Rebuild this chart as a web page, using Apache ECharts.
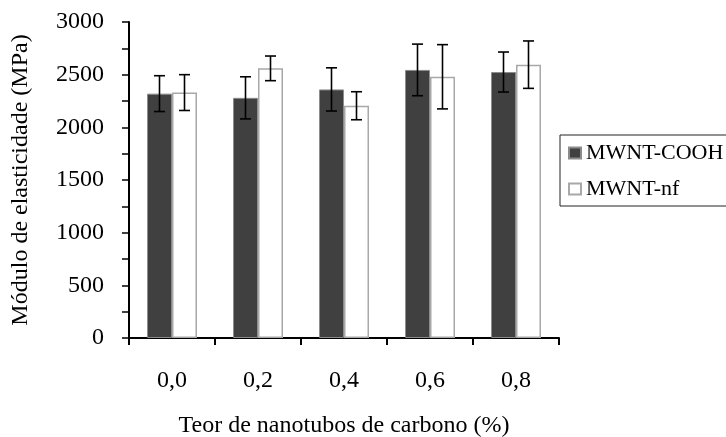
<!DOCTYPE html>
<html>
<head>
<meta charset="utf-8">
<script src="https://cdn.jsdelivr.net/npm/echarts@6/dist/echarts.min.js"></script>
<style>
  html, body { margin: 0; padding: 0; background: #fff; }
  #chart { width: 726px; height: 437px; }
</style>
</head>
<body>
<div id="chart"></div>
<script>
"use strict";
// teor de nanotubos (%)
var categories = ['0,0', '0,2', '0,4', '0,6', '0,8'];
// módulo de elasticidade (MPa) e desvio
var coohValues = [2320, 2280, 2360, 2545, 2525];
var coohErr = [170, 200, 205, 245, 190];
var nfValues = [2330, 2560, 2205, 2480, 2595];
var nfErr = [170, 117, 133, 305, 225];
var yTicks = [0, 500, 1000, 1500, 2000, 2500, 3000];

var FONT = 'Liberation Serif';
var BAR_W = 25;

// monta [categoria, baixo, alto] para as barras de erro
function errData(vals, errs) {
	var out = [];
	for (var i = 0; i < vals.length; i++) {
		out.push([i, vals[i] - errs[i], vals[i] + errs[i]]);
	}
	return out;
}

function errRender(offset) {
	return function (params, api) {
		var lo = api.coord([api.value(0), api.value(1)]);
		var hi = api.coord([api.value(0), api.value(2)]);
		var x = lo[0] + offset;
		var cap = 5.5;
		var st = { stroke: '#000', lineWidth: 1.6 };
		return {
			type: 'group',
			children: [
				{ type: 'line', shape: { x1: x, y1: hi[1], x2: x, y2: lo[1] }, style: st },
				{ type: 'line', shape: { x1: x - cap, y1: hi[1], x2: x + cap, y2: hi[1] }, style: st },
				{ type: 'line', shape: { x1: x - cap, y1: lo[1], x2: x + cap, y2: lo[1] }, style: st }
			]
		};
	};
}

var myChart = echarts.init(document.getElementById('chart'));
var option = {
	animation: false,
	backgroundColor: '#fff',
	grid: { left: 129, right: 167, top: 22, bottom: 99, containLabel: false, outerBoundsMode: 'none' },
	legend: {
		orient: 'vertical',
		left: 560,
		top: 135,
		data: ['MWNT-COOH', 'MWNT-nf'],
		icon: 'rect',
		itemWidth: 12,
		itemHeight: 11,
		itemGap: 14,
		padding: [7, 10, 6, 8],
		borderColor: '#222',
		borderWidth: 1,
		textStyle: { fontFamily: FONT, fontSize: 22, color: '#000' }
	},
	xAxis: {
		type: 'category',
		data: categories,
		name: 'Teor de nanotubos de carbono (%)',
		nameLocation: 'middle',
		nameGap: 76,
		nameTextStyle: { fontFamily: FONT, fontSize: 24, color: '#000' },
		axisLine: { lineStyle: { color: '#000', width: 2 } },
		axisTick: { show: true, length: 7, lineStyle: { color: '#000', width: 2 } },
		axisLabel: { fontFamily: FONT, fontSize: 24, color: '#000', margin: 31 }
	},
	yAxis: {
		type: 'value',
		min: 0,
		max: 3000,
		interval: 500,
		name: 'Módulo de elasticidade (MPa)',
		nameLocation: 'middle',
		nameGap: 96,
		nameTextStyle: { fontFamily: FONT, fontSize: 24, color: '#000' },
		axisLine: { show: true, lineStyle: { color: '#000', width: 2 } },
		axisTick: { show: true, length: 7, lineStyle: { color: '#000', width: 1.5 } },
		minorTick: { show: true, splitNumber: 2, length: 7, lineStyle: { color: '#000', width: 1.5 } },
		splitLine: { show: false },
		axisLabel: {
			fontFamily: FONT, fontSize: 24, color: '#000', margin: 25,
			formatter: function (v) { return yTicks.indexOf(v) >= 0 ? String(v) : ''; }
		}
	},
	series: [
		{
			name: 'MWNT-COOH',
			type: 'bar',
			barWidth: BAR_W,
			barGap: '0%',
			data: coohValues,
			itemStyle: { color: '#404040', borderColor: '#8c8c8c', borderWidth: 1 }
		},
		{
			name: 'MWNT-nf',
			type: 'bar',
			barWidth: BAR_W,
			barGap: '0%',
			data: nfValues,
			itemStyle: { color: '#fff', borderColor: '#a8a8a8', borderWidth: 1.5 }
		},
		{
			type: 'custom',
			renderItem: errRender(-BAR_W / 2),
			data: errData(coohValues, coohErr),
			encode: { x: 0, y: [1, 2] },
			z: 10
		},
		{
			type: 'custom',
			renderItem: errRender(BAR_W / 2),
			data: errData(nfValues, nfErr),
			encode: { x: 0, y: [1, 2] },
			z: 10
		}
	]
};
myChart.setOption(option);
</script>
</body>
</html>
